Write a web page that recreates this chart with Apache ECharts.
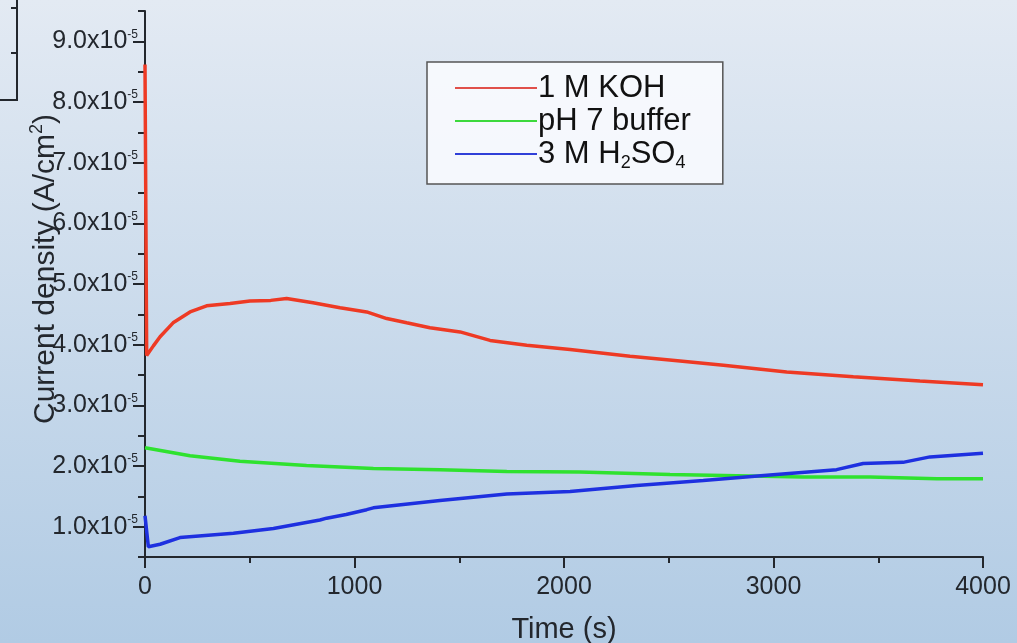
<!DOCTYPE html>
<html>
<head>
<meta charset="utf-8">
<script src="https://cdn.jsdelivr.net/npm/echarts@6/dist/echarts.min.js"></script>
<style>
  html, body { margin: 0; padding: 0; }
  #chart { width: 1017px; height: 643px; }
</style>
</head>
<body>
<div id="chart"></div>
<script>
// values in units of 1e-5 A/cm2, time in s
const kohTime = [0, 8, 40, 72, 134, 215, 294, 406, 501, 600, 676, 802, 931, 1058, 1154, 1249, 1360, 1504, 1647, 1822, 2029, 2315, 2554, 2761, 3063, 3381, 3699, 4000]
const kohVal = [8.62, 3.82, 3.98, 4.13, 4.36, 4.54, 4.64, 4.68, 4.72, 4.73, 4.76, 4.69, 4.61, 4.54, 4.43, 4.36, 4.28, 4.21, 4.07, 3.99, 3.92, 3.81, 3.73, 3.66, 3.55, 3.47, 3.40, 3.34]

const phTime = [0, 8, 215, 453, 771, 1090, 1408, 1727, 2076, 2506, 2824, 3141, 3461, 3779, 4000]
const phVal = [2.30, 2.28, 2.17, 2.08, 2.01, 1.96, 1.94, 1.91, 1.90, 1.86, 1.84, 1.82, 1.82, 1.79, 1.79]

const acidTime = [0, 16, 72, 167, 422, 613, 835, 867, 960, 1058, 1090, 1408, 1727, 2029, 2347, 2665, 2983, 3301, 3428, 3618, 3747, 4000]
const acidVal = [1.18, 0.67, 0.71, 0.82, 0.89, 0.97, 1.11, 1.14, 1.20, 1.28, 1.31, 1.43, 1.54, 1.58, 1.68, 1.76, 1.85, 1.94, 2.04, 2.06, 2.15, 2.21]

const yLabels = [1, 2, 3, 4, 5, 6, 7, 8, 9]
const yMinorTicks = [0.5, 1.5, 2.5, 3.5, 4.5, 5.5, 6.5, 7.5, 8.5, 9.5]

const pairs = (t, v) => t.map((x, i) => [x, v[i]])

const chart = echarts.init(document.getElementById('chart'))
const ink = '#23272d'
const font = '"Liberation Sans", Arial, sans-serif'

const option = {
  backgroundColor: new echarts.graphic.LinearGradient(0, 0, 0, 1, [
    { offset: 0, color: '#e3eaf3' },
    { offset: 1, color: '#b1cbe4' }
  ]),
  animation: false,
  grid: { left: 145, right: 34, top: 11, bottom: 86, outerBoundsMode: 'none', containLabel: false },
  legend: {
    orient: 'vertical',
    left: 427,
    top: 62,
    padding: [10, 32, 12, 28],
    itemGap: 1,
    itemWidth: 82,
    itemHeight: 14,
    icon: 'path://M0,6L82,6L82,8L0,8Z',
    backgroundColor: 'rgba(250,252,255,0.85)',
    borderColor: '#555',
    borderWidth: 1.5,
    borderRadius: 0,
    textStyle: {
      fontFamily: font,
      fontSize: 31,
      color: '#111',
      lineHeight: 32,
      padding: [0, 0, 0, -4],
      rich: {
        sub: { fontSize: 18, fontFamily: font, color: '#111', padding: [18, 0, 0, 0] }
      }
    },
    formatter: name => name === '3 M H2SO4' ? '3 M H{sub|2}SO{sub|4}' : name
  },
  xAxis: {
    type: 'value',
    min: 0,
    max: 4000,
    interval: 1000,
    axisLine: { lineStyle: { color: ink, width: 2 } },
    axisTick: { length: 11, lineStyle: { color: ink, width: 2 } },
    minorTick: { show: true, splitNumber: 2, length: 6, lineStyle: { color: ink, width: 2 } },
    splitLine: { show: false },
    axisLabel: { color: ink, fontSize: 25, fontFamily: font, margin: 18, formatter: v => String(v) },
    name: 'Time (s)',
    nameLocation: 'middle',
    nameGap: 58,
    nameTextStyle: { color: ink, fontSize: 29, fontFamily: font }
  },
  yAxis: [
    {
      type: 'value',
      min: 0.5,
      max: 9.5,
      axisLine: { show: true, lineStyle: { color: ink, width: 2 } },
      axisTick: { show: true, customValues: yLabels, length: 12, lineStyle: { color: ink, width: 2 } },
      splitLine: { show: false },
      axisLabel: {
        customValues: yLabels,
        margin: 7,
        color: ink,
        formatter: v => '{b|' + v.toFixed(1) + 'x10}{s|-5}',
        rich: {
          b: { fontSize: 25, fontFamily: font, color: ink },
          s: { fontSize: 12, fontFamily: font, color: ink, padding: [0, 0, 14, 0] }
        }
      }
    },
    {
      type: 'value',
      min: 0.5,
      max: 9.5,
      position: 'left',
      axisLine: { show: false },
      axisTick: { show: true, customValues: yMinorTicks, length: 7, lineStyle: { color: ink, width: 2 } },
      axisLabel: { show: false },
      splitLine: { show: false }
    }
  ],
  graphic: [
    {
      type: 'text',
      x: 46,
      y: 424,
      rotation: Math.PI / 2,
      style: {
        text: 'Current density (A/cm{sup|2})',
        fill: ink,
        font: '30px ' + font,
        align: 'left',
        verticalAlign: 'middle',
        rich: {
          sup: { fontSize: 18, fontFamily: font, fill: ink, padding: [0, 0, 18, 0] }
        }
      }
    },
    { type: 'line', shape: { x1: 17, y1: 0, x2: 17, y2: 100 }, style: { stroke: ink, lineWidth: 2 } },
    { type: 'line', shape: { x1: 0, y1: 100, x2: 18, y2: 100 }, style: { stroke: ink, lineWidth: 2 } },
    { type: 'line', shape: { x1: 11, y1: 8, x2: 17, y2: 8 }, style: { stroke: ink, lineWidth: 2 } },
    { type: 'line', shape: { x1: 11, y1: 53, x2: 17, y2: 53 }, style: { stroke: ink, lineWidth: 2 } }
  ],
  series: [
    {
      name: '1 M KOH',
      type: 'line',
      data: pairs(kohTime, kohVal),
      showSymbol: false,
      lineStyle: { color: '#ee3a24', width: 3.5 },
      itemStyle: { color: '#e0504a' }
    },
    {
      name: 'pH 7 buffer',
      type: 'line',
      data: pairs(phTime, phVal),
      showSymbol: false,
      lineStyle: { color: '#2fe22f', width: 3.5 },
      itemStyle: { color: '#3dd93d' }
    },
    {
      name: '3 M H2SO4',
      type: 'line',
      data: pairs(acidTime, acidVal),
      showSymbol: false,
      lineStyle: { color: '#1e30e0', width: 3.5 },
      itemStyle: { color: '#3040d8' }
    }
  ]
}

chart.setOption(option)
window.addEventListener('resize', () => chart.resize())
</script>
</body>
</html>
